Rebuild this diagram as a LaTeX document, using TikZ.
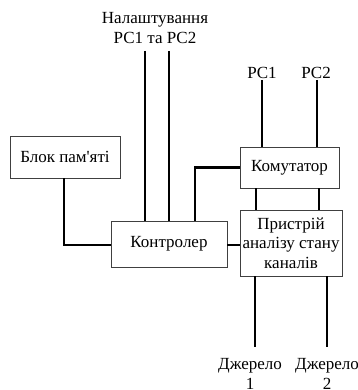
\documentclass[tikz,border=0pt]{standalone}
\usepackage{fontspec}
\setmainfont{Liberation Serif}
\usetikzlibrary{positioning,calc}
\definecolor{ink}{HTML}{000000}
\definecolor{frame}{HTML}{404040}
\tikzset{
  box/.style={draw=frame,line width=0.9pt,fill=white,align=center,
    font=\fontsize{17}{19.5}\selectfont,inner sep=1pt},
  lbl/.style={align=center,font=\fontsize{17}{19.5}\selectfont,inner sep=1pt},
  wire/.style={draw=ink,line width=2.6pt},
}
\begin{document}
\begin{tikzpicture}[x=1pt,y=-1pt]
  \useasboundingbox (0,0) rectangle (357,390);
  % blocks
  \node[box,minimum width=110pt,minimum height=42pt] (mem) at (65,157) {Блок пам\textquotesingle яті};
  \node[box,minimum width=116pt,minimum height=46pt] (ctrl) at (169,244) {Контролер};
  \node[box,minimum width=99pt,minimum height=41pt] (komm) at (289.5,167.5) {Комутатор};
  \node[box,minimum width=102pt,minimum height=66pt] (anlz) at (291,243) {Пристрій\\аналізу стану\\каналів};
  % labels
  \node[lbl] (set) at (155,28) {Налаштування\\РС1 та РС2};
  \node[lbl] (pc1) at (262,73) {РС1};
  \node[lbl] (pc2) at (316,73) {РС2};
  \node[lbl] (src1) at (250,374) {Джерело\\1};
  \node[lbl] (src2) at (327,374) {Джерело\\2};
  % connections
  \foreach \x in {145,169}{
    \draw[wire] (\x,51) -- (ctrl.north -| \x,0);
  }
  \draw[wire] (pc1.south -| 262,0) -- (komm.north -| 262,0);
  \draw[wire] (pc2.south -| 317,0) -- (komm.north -| 317,0);
  \foreach \x in {256,319}{
    \draw[wire] (komm.south -| \x,0) -- (anlz.north -| \x,0);
  }
  \foreach \x in {255,327}{
    \draw[wire] (anlz.south -| \x,0) -- (\x,347);
  }
  \draw[wire] (mem.south -| 64,0) |- (ctrl.west |- 0,245);
  \draw[wire] (ctrl.north -| 195,0) |- (komm.west);
  \draw[wire] (ctrl.east |- 0,245) -- (anlz.west |- 0,245);
\end{tikzpicture}
\end{document}
